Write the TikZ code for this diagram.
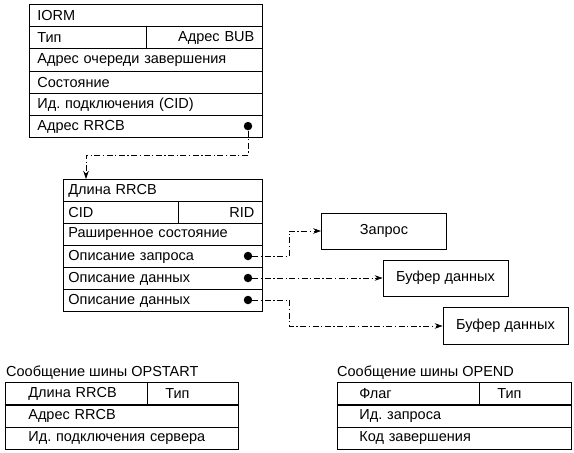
\documentclass[tikz,border=0pt]{standalone}
\usepackage{fontspec}
\setmainfont{Liberation Sans}
\usetikzlibrary{arrows.meta}
\begin{document}
\frenchspacing
\begin{tikzpicture}[x=1pt,y=-1pt,
  every node/.style={font=\fontsize{14.5}{17}\selectfont},
  fld/.style={draw,line width=0.75pt,minimum height=22.2pt,inner xsep=8pt,inner ysep=0pt,anchor=north west,align=left},
  fldr/.style={fld,align=right},
  box/.style={draw,line width=0.75pt,minimum width=125pt,minimum height=37pt,inner sep=0pt},
  dotn/.style={circle,fill,inner sep=0pt,minimum size=8.5pt},
  conn/.style={line width=0.65pt,dash pattern=on 6pt off 2.5pt on 1.3pt off 2.5pt,-{Stealth[length=8pt,width=5.5pt]}},
  ttl/.style={anchor=base west,inner sep=0pt}]
\useasboundingbox (0,0) rectangle (574,453);
% IORM
\node[fld,text width=217pt] (i1) at (29,4) {IORM};
\node[fld,text width=101pt] (i2a) at (29,26.2) {Тип};
\node[fldr,text width=100pt] (i2b) at (146,26.2) {Адрес BUB};
\node[fld,text width=217pt] (i3) at (29,48.4) {Адрес очереди завершения};
\node[fld,text width=217pt] (i4) at (29,70.6) {Состояние};
\node[fld,text width=217pt] (i5) at (29,92.8) {Ид. подключения (CID)};
\node[fld,text width=217pt] (i6) at (29,115) {Адрес RRCB};
\node[dotn] (dI) at (248,126.1) {};
% RRCB
\node[fld,inner xsep=5pt,text width=189pt] (r1) at (63,179) {Длина RRCB};
\node[fld,inner xsep=5pt,text width=105pt] (r2a) at (63,201) {CID};
\node[fldr,inner xsep=8pt,text width=68pt] (r2b) at (178,201) {RID};
\node[fld,inner xsep=5pt,text width=189pt] (r3) at (63,223) {Раширенное состояние};
\node[fld,inner xsep=5pt,text width=189pt] (r4) at (63,245) {Описание запроса};
\node[fld,inner xsep=5pt,text width=189pt] (r5) at (63,267) {Описание данных};
\node[fld,inner xsep=5pt,text width=189pt] (r6) at (63,289) {Описание данных};
\node[dotn] (dq) at (248,256) {};
\node[dotn] (d1) at (248,278) {};
\node[dotn] (d2) at (248,300) {};
% targets
\node[box,minimum height=36pt] (zap) at (384,231) {Запрос};
\node[box,minimum height=36pt] (buf1) at (445.5,278) {Буфер данных};
\node[box] (buf2) at (505.5,326) {Буфер данных};
% connectors
\coordinate (ain) at ([xshift=23pt]r1.north west);
\draw[conn] (dI) -- ++(0,29) -| (ain);
\draw[conn] (dq) -- ++(41,0) |- (zap.west);
\draw[conn] (d1) -- (buf1.west);
\draw[conn] (d2) -- ++(41,0) |- (buf2.west);
% OPSTART
\node[ttl] (t1) at (6,376) {Сообщение шины OPSTART};
\node[fld,inner xsep=23pt,text width=96pt] (s1a) at (5,382) {Длина RRCB};
\node[fld,inner xsep=18pt,text width=55pt] (s1b) at (147,382) {Тип};
\node[fld,inner xsep=23pt,text width=187pt] (s2) at (5,404.5) {Адрес RRCB};
\node[fld,inner xsep=23pt,text width=187pt] (s3) at (5,427) {Ид. подключения сервера};
% OPEND
\node[ttl] (t2) at (337,376) {Сообщение шины OPEND};
\node[fld,inner xsep=22pt,text width=98pt] (e1a) at (337,382) {Флаг};
\node[fld,inner xsep=18pt,text width=56pt] (e1b) at (479,382) {Тип};
\node[fld,inner xsep=22pt,text width=190pt] (e2) at (337,404.5) {Ид. запроса};
\node[fld,inner xsep=22pt,text width=190pt] (e3) at (337,427) {Код завершения};
\end{tikzpicture}
\end{document}
